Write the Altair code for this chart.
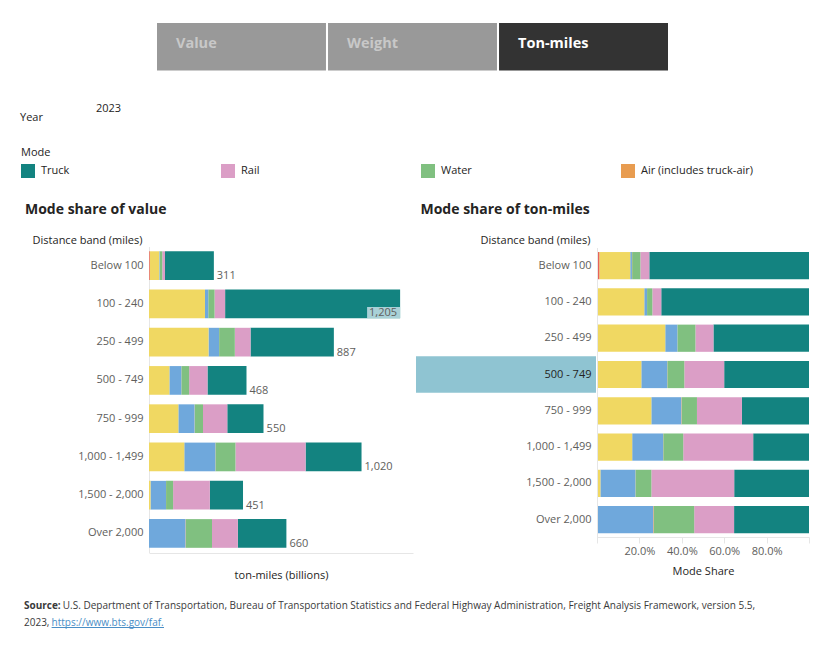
import altair as alt
import pandas as pd

# ---------------- data ----------------
bands = ["Below 100", "100 - 240", "250 - 499", "500 - 749", "750 - 999",
         "1,000 - 1,499", "1,500 - 2,000", "Over 2,000"]
totals = [311, 1205, 887, 468, 550, 1020, 451, 660]

modes = ["Truck", "Rail", "Water", "Air (includes truck-air)",
         "Multiple modes & mail", "Pipeline", "Other and unknown"]
mode_colors = ["#138380", "#db9ec6", "#80c080", "#e89c50",
               "#6fa8dc", "#f0d862", "#e8625a"]
legend_modes = ["Truck", "Rail", "Water", "Air (includes truck-air)"]
stack_order = ["Other and unknown", "Pipeline", "Multiple modes & mail",
               "Air (includes truck-air)", "Water", "Rail", "Truck"]

# ton-miles (billions) by mode and distance band, 2023
truck = [234.5, 839.9, 399.9, 187.2, 173.8, 268.5, 159.2, 233.0]
rail = [13.1, 50.6, 75.4, 88.0, 116.6, 336.6, 176.3, 124.1]
water = [12.1, 30.1, 75.4, 37.4, 39.6, 95.9, 33.8, 125.4]
air = [0.3, 0.2, 0.3, 0.4, 1.1, 0.8, 0.3, 2.0]
multi = [2.5, 15.7, 50.6, 57.1, 77.6, 148.9, 74.4, 174.9]
pipeline = [45.4, 268.7, 285.6, 97.8, 140.8, 169.3, 7.2, 0.0]
other = [3.4, 0.0, 0.0, 0.0, 0.0, 0.0, 0.0, 0.0]

tabs = ["Value", "Weight", "Ton-miles"]
active_tab = "Ton-miles"
year = "2023"
highlight_band = "500 - 749"

series = {"Truck": truck, "Rail": rail, "Water": water,
          "Air (includes truck-air)": air, "Multiple modes & mail": multi,
          "Pipeline": pipeline, "Other and unknown": other}

df = pd.DataFrame([
    {"band": b, "mode": m, "value": series[m][i], "rank": stack_order.index(m)}
    for m in modes for i, b in enumerate(bands)
])
tot_df = pd.DataFrame({"band": bands, "total": totals,
                       "label": [f"{t:,}" for t in totals]})
band_df = pd.DataFrame({"band": bands})
tab_df = pd.DataFrame({"tab": tabs})

FONT = "Open Sans"
DARK = "#252423"
GREY = "#605e5c"
LINE = "#e6e6e6"

color = alt.Color("mode:N", scale=alt.Scale(domain=modes, range=mode_colors),
                  legend=alt.Legend(
                      orient="none", legendX=13, legendY=139,
                      direction="horizontal", columns=4, gridAlign="all",
                      columnPadding=67, title="Mode", titleFontSize=11,
                      titleFontWeight="normal", titleColor=DARK, titlePadding=6,
                      labelFontSize=11, labelColor=DARK, labelOffset=6,
                      labelLimit=300, symbolType="square", symbolSize=196,
                      symbolStrokeWidth=0, values=legend_modes))
order = alt.Order("rank:Q", sort="ascending")

# ---------------- left chart (absolute ton-miles) ----------------
lx_scale = alt.Scale(domain=[0, 1267], range=[141, 405], nice=False, zero=True)
ly_scale = alt.Scale(domain=bands, range=[238.5, 544.6],
                     paddingInner=0.25, paddingOuter=0.125)
lx_axis = alt.Axis(orient="bottom", offset=-89, domainColor=LINE,
                   labels=False, ticks=False, grid=False,
                   title="ton-miles (billions)", titleFontSize=11,
                   titleFontWeight="normal", titleColor=DARK, titlePadding=16)
ly_axis = alt.Axis(orient="left", offset=-141, domainColor=LINE,
                   ticks=False, labelPadding=6, labelFontSize=11,
                   labelColor=GREY, title="Distance band (miles)",
                   titleAngle=0, titleAlign="right", titleBaseline="middle",
                   titleX=-7, titleY=232, titleFontSize=11,
                   titleFontWeight="normal", titleColor=DARK)
LX_T = "ton-miles (billions)"
Y_T = "Distance band (miles)"

left_bars = alt.Chart(df).mark_bar().encode(
    x=alt.X("value:Q", stack="zero", scale=lx_scale, axis=lx_axis, title=LX_T),
    y=alt.Y("band:N", scale=ly_scale, axis=ly_axis, title=Y_T),
    color=color,
    order=order,
)

left_labels = alt.Chart(tot_df).transform_filter(
    "datum.total < 1100"
).mark_text(align="left", baseline="alphabetic", dx=3, dy=13.5,
            fontSize=11, color=GREY).encode(
    x=alt.X("total:Q", scale=lx_scale, axis=lx_axis, title=LX_T),
    y=alt.Y("band:N", scale=ly_scale, axis=ly_axis, title=Y_T),
    text="label:N",
)

left_hl_box = alt.Chart(tot_df).transform_filter(
    "datum.total >= 1100"
).mark_bar(orient="horizontal", size=11, yOffset=8.6, xOffset=-33,
           color="#a9d1d7").encode(
    x=alt.X("total:Q", scale=lx_scale, axis=lx_axis, title=LX_T),
    x2="total:Q",
    y=alt.Y("band:N", scale=ly_scale, axis=ly_axis, title=Y_T),
)

left_hl_label = alt.Chart(tot_df).transform_filter(
    "datum.total >= 1100"
).mark_text(align="right", baseline="alphabetic", dx=-3, dy=12.5,
            fontSize=11, color=GREY).encode(
    x=alt.X("total:Q", scale=lx_scale, axis=lx_axis, title=LX_T),
    y=alt.Y("band:N", scale=ly_scale, axis=ly_axis, title=Y_T),
    text="label:N",
)

left = alt.layer(left_bars, left_labels, left_hl_box, left_hl_label)

# ---------------- right chart (share) ----------------
rx_scale = alt.Scale(domain=[0, 1], range=[589, 801], nice=False)
ry_scale = alt.Scale(domain=bands, range=[239.5, 529.8],
                     paddingInner=0.25, paddingOuter=0.125)
rx_axis = alt.Axis(orient="bottom", offset=-105, domainColor=LINE,
                   tickColor=LINE, tickSize=6, grid=False,
                   values=[0, 0.2, 0.4, 0.6, 0.8, 1.0],
                   labelExpr="datum.value == 0 || datum.value == 1 ? '' : format(datum.value, '.1%')",
                   labelFontSize=11, labelColor=GREY, labelPadding=2,
                   title="Mode Share", titleFontSize=11,
                   titleFontWeight="normal", titleColor=DARK, titlePadding=9)
ry_axis = alt.Axis(orient="left", offset=-589, domainColor=LINE, zindex=1,
                   ticks=False, labelPadding=6, labelFontSize=11,
                   labelColor={"condition": {"test": f"datum.value == '{highlight_band}'",
                                             "value": DARK},
                               "value": GREY},
                   title="Distance band (miles)",
                   titleAngle=0, titleAlign="right", titleBaseline="middle",
                   titleX=-7, titleY=232, titleFontSize=11,
                   titleFontWeight="normal", titleColor=DARK)

right_hl = alt.Chart(band_df).transform_filter(
    f"datum.band == '{highlight_band}'"
).mark_bar(orient="horizontal", size=36.3, color="#8fc4d2").encode(
    y=alt.Y("band:N", scale=ry_scale, axis=ry_axis, title=Y_T),
    x=alt.value(408),
    x2=alt.value(588),
)

right_bars = alt.Chart(df).mark_bar().encode(
    x=alt.X("value:Q", stack="normalize", scale=rx_scale, axis=rx_axis,
            title="Mode Share"),
    y=alt.Y("band:N", scale=ry_scale, axis=ry_axis, title=Y_T),
    color=color,
    order=order,
)

right = alt.layer(right_hl, right_bars)

# ---------------- header tabs ----------------
tab_scale = alt.Scale(domain=tabs, range=[149, 660], paddingInner=0.012,
                      paddingOuter=0)
tab_rects = alt.Chart(tab_df).mark_rect().encode(
    x=alt.X("tab:N", scale=tab_scale, axis=None),
    y=alt.value(15), y2=alt.value(62.5),
    fill=alt.condition(f"datum.tab == '{active_tab}'",
                       alt.value("#333333"), alt.value("#999999")),
)
tab_texts = alt.Chart(tab_df).mark_text(
    align="left", baseline="middle", dx=19, fontSize=14.5, fontWeight="bold"
).encode(
    x=alt.X("tab:N", scale=tab_scale, bandPosition=0, axis=None),
    y=alt.value(36),
    text="tab:N",
    color=alt.condition(f"datum.tab == '{active_tab}'",
                        alt.value("#ffffff"), alt.value("#c8c8c8")),
)
tabs_layer = alt.layer(tab_rects, tab_texts)


def text_at(s, x, y, size=11, weight="normal", color=DARK, align="left"):
    return alt.Chart(pd.DataFrame({"t": [s]})).mark_text(
        align=align, baseline="alphabetic", fontSize=size,
        fontWeight=weight, color=color
    ).encode(x=alt.value(x), y=alt.value(y), text="t:N")


src_color = "#3a3a3a"
link_color = "#4a8ec6"
texts = [
    text_at("Year", 12, 112.7),
    text_at(year, 88, 104),
    text_at("Mode share of value", 17, 206, size=14, weight="bold"),
    text_at("Mode share of ton-miles", 412.5, 206, size=14, weight="bold"),
    text_at("Source:", 16, 600.5, size=10, weight="bold", color=src_color),
    text_at("U.S. Department of Transportation, Bureau of Transportation "
            "Statistics and Federal Highway Administration, Freight Analysis "
            "Framework, version 5.5,", 54.8, 600.5, size=10, color=src_color),
    text_at("2023,", 16, 617.5, size=10, color=src_color),
    text_at("https://www.bts.gov/faf.", 43.6, 617.5, size=10, color=link_color),
]
link_rule = alt.Chart(pd.DataFrame({"t": [0]})).mark_rule(
    color=link_color, strokeWidth=1
).encode(x=alt.value(43.6), x2=alt.value(156), y=alt.value(619.5))

chart = alt.layer(
    tabs_layer, left, right, *texts, link_rule
).resolve_scale(
    x="independent", y="independent", color="shared"
).properties(
    width=809, height=634, padding=0,
    autosize=alt.AutoSizeParams(type="none"),
).configure(font=FONT).configure_view(stroke=None)

chart.save("out.html", embed_options={"renderer": "svg", "actions": False})
